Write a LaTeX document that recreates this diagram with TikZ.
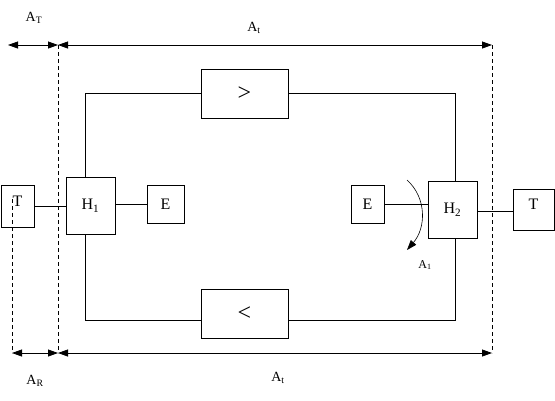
\documentclass[tikz,border=0pt]{standalone}
\usepackage{fontspec}
\setmainfont{Liberation Serif}
\usetikzlibrary{arrows.meta,calc,positioning}

\tikzset{
  blk/.style={draw, inner sep=0pt, font=\fontsize{16}{18}\selectfont},
  sign/.style={blk, font=\fontsize{24}{26}\selectfont},
  lbl/.style={font=\fontsize{14}{16}\selectfont},
  dimline/.style={<->},
  guide/.style={dash pattern=on 4pt off 3pt}
}

\begin{document}
\begin{tikzpicture}[x=1pt,y=-1pt,>={Triangle[length=10pt,width=7pt]},line width=0.8pt]
  \useasboundingbox (0,0) rectangle (555,400);
  % boxes
  \node[blk, minimum width=33pt, minimum height=42pt, text depth=10pt] (TL) at (17.5,206) {T};
  \node[blk, minimum width=49pt, minimum height=57pt] (H1) at (90.5,205.5) {H\textsubscript{1}};
  \node[blk, minimum width=37pt, minimum height=38pt] (EL) at (165.5,204) {E};
  \node[sign, minimum width=87pt, minimum height=49pt] (gt) at (244.5,93.5) {>};
  \node[sign, minimum width=87pt, minimum height=49pt] (lt) at (244.5,313.5) {<};
  \node[blk, minimum width=33pt, minimum height=38pt] (ER) at (367.5,204) {E};
  \node[blk, minimum width=49pt, minimum height=57pt] (H2) at (452.5,209.5) {H\textsubscript{2}};
  \node[blk, minimum width=41pt, minimum height=41pt, text depth=10pt] (TR) at (533.5,209.5) {T};
  % loop
  \draw ([xshift=-5.5pt]H1.north) |- (gt.west);
  \draw (gt.east) -| ([xshift=2.5pt]H2.north);
  \draw ([xshift=-5.5pt]H1.south) |- ([yshift=-7pt]lt.west);
  \draw ([yshift=-7pt]lt.east) -| ([xshift=2.5pt]H2.south);
  % links
  \draw (TL.east) -- (TL.east -| H1.west);
  \draw (H1.east |- EL.west) -- (EL.west);
  \draw (ER.east) -- (ER.east -| H2.west);
  \draw ([yshift=-1.5pt]H2.east) -- ([yshift=-1.5pt]H2.east -| TR.west);
  % dimensions
  \coordinate (aTl) at (8,45);
  \coordinate (aTm) at (58,45);
  \coordinate (aTr) at (492,45);
  \coordinate (aBl) at (12,353);
  \coordinate (aBm) at (58,353);
  \coordinate (aBr) at (492,353);
  \coordinate (dTop) at (12,199);
  \draw[guide] (dTop) -- (aBl);
  \draw[guide] (aTm) -- (aBm);
  \draw[guide] (aTr) -- (aBr);
  \draw[dimline] (aTl) -- (aTm);
  \draw[dimline] (aTm) -- (aTr);
  \draw[dimline] (aBl) -- (aBm);
  \draw[dimline] (aBm) -- (aBr);
  \node[lbl] (lAT) at (34,18) {A\textsubscript{T}};
  \node[lbl] (lAt1) at (254,28) {A\textsubscript{t}};
  \node[lbl] (lAR) at (35,381) {A\textsubscript{R}};
  \node[lbl] (lAt2) at (278,378) {A\textsubscript{t}};
  % rotation
  \coordinate (rS) at (407,180);
  \coordinate (rE) at (407,250);
  \draw[->, line width=0.6pt] (rS) .. controls (427,198) and (426,228) .. (rE);
  \node[font=\fontsize{12}{14}\selectfont] (lA1) at (425,265) {A\textsubscript{1}};
\end{tikzpicture}
\end{document}
